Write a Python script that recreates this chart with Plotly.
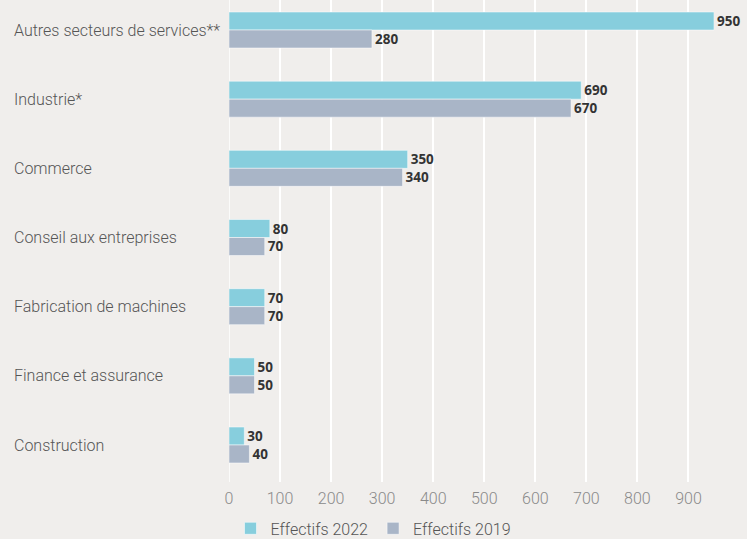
import plotly.graph_objects as go

categories = ["Autres secteurs de services**", "Industrie*", "Commerce",
              "Conseil aux entreprises", "Fabrication de machines",
              "Finance et assurance", "Construction"]
effectifs_2022 = [950, 690, 350, 80, 70, 50, 30]
effectifs_2019 = [280, 670, 340, 70, 70, 50, 40]
tick_values = [0, 100, 200, 300, 400, 500, 600, 700, 800, 900]

BG = "#f0eeec"
C22 = "#87cedd"
C19 = "#a9b5c7"

fig = go.Figure()
for name, vals, col in [("Effectifs 2022", effectifs_2022, C22),
                        ("Effectifs 2019", effectifs_2019, C19)]:
    fig.add_trace(go.Bar(
        y=categories, x=vals, name=name, orientation="h",
        marker=dict(color=col, line=dict(color="rgba(255,255,255,0.5)", width=1)),
        text=[str(v) for v in vals], textposition="outside",
        textfont=dict(family="Open Sans", size=13.5, color="#333333", weight=700),
        cliponaxis=False,
    ))

for c in categories:
    fig.add_annotation(x=0, xref="paper", y=c, yref="y", text=c,
                       xanchor="left", xshift=-217, showarrow=False,
                       font=dict(family="Roboto", size=16, color="#555555", weight=300))

fig.update_layout(
    width=747, height=539,
    paper_bgcolor=BG, plot_bgcolor=BG,
    margin=dict(l=229, r=33, t=0, b=57, autoexpand=False),
    barmode="group", bargap=0.48, bargroupgap=0,
    showlegend=True,
    legend=dict(orientation="h", x=0.5, xref="container", xanchor="center",
                y=-0.061, yref="paper", yanchor="top",
                font=dict(family="Roboto", size=16, color="#555555", weight=300),
                traceorder="normal", itemwidth=30),
    xaxis=dict(range=[0, 950], tickvals=tick_values, showgrid=True,
               gridcolor="white", gridwidth=1.5, zeroline=False,
               tickfont=dict(family="Roboto", size=16, color="#8a8a8a", weight=300),
               ticks="", showline=False, ticklabelstandoff=5),
    yaxis=dict(categoryorder="array", categoryarray=categories,
               range=[6.535, -0.434], showticklabels=False, showgrid=False,
               zeroline=False, ticks=""),
)
fig.add_shape(type="line", x0=0, x1=0, y0=0, y1=1, xref="x", yref="paper",
              line=dict(color="white", width=1.5), layer="below")

fig.write_html("out.html", config={"displayModeBar": False},
               post_script="document.body.style.margin='0';document.body.style.background='%s';" % BG)
